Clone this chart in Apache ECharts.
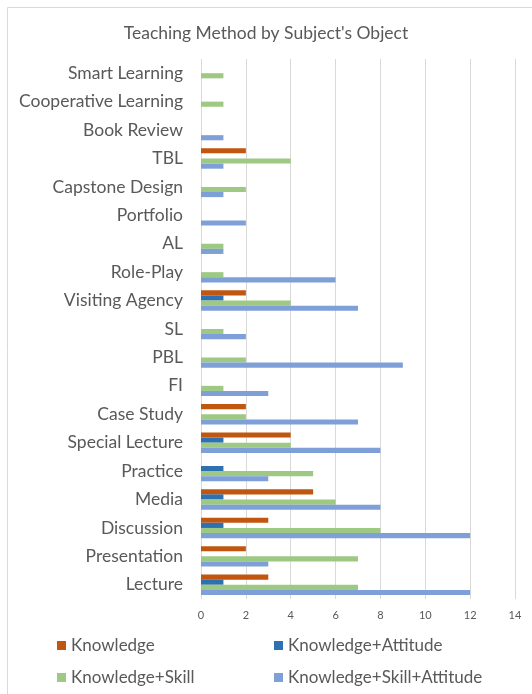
<!DOCTYPE html>
<html>
<head>
<meta charset="utf-8">
<script src="https://cdn.jsdelivr.net/npm/echarts@6/dist/echarts.min.js"></script>
<style>
  html, body { margin: 0; padding: 0; background: #fff; }
  #chart { width: 532px; height: 694px; }
</style>
</head>
<body>
<div id="chart"></div>
<script>
// categories bottom -> top
var methods = ['Lecture', 'Presentation', 'Discussion', 'Media', 'Practice', 'Special Lecture',
  'Case Study', 'FI', 'PBL', 'SL', 'Visiting Agency', 'Role-Play', 'AL', 'Portfolio',
  'Capstone Design', 'TBL', 'Book Review', 'Cooperative Learning', 'Smart Learning'];

var knowledge          = [3, 2, 3, 5, 0, 4, 2, 0, 0, 0, 2, 0, 0, 0, 0, 2, 0, 0, 0];
var knowAttitude       = [1, 0, 1, 1, 1, 1, 0, 0, 0, 0, 1, 0, 0, 0, 0, 0, 0, 0, 0];
var knowSkill          = [7, 7, 8, 6, 5, 4, 2, 1, 2, 1, 4, 1, 1, 0, 2, 4, 0, 1, 1];
var knowSkillAttitude  = [12, 3, 12, 8, 3, 8, 7, 3, 9, 2, 7, 6, 1, 2, 1, 1, 1, 0, 0];

var xTicks = [0, 2, 4, 6, 8, 10, 12, 14];

var fontName = 'Lato';
var textColor = '#595959';

function bar(name, data, color) {
  return {
    name: name,
    type: 'bar',
    data: data.map(function (v) { return v === 0 ? '-' : v; }),
    barGap: '0%',
    barCategoryGap: '28%',
    itemStyle: { color: color },
    silent: true
  };
}

var chart = echarts.init(document.getElementById('chart'));

var option = {
  animation: false,
  textStyle: { fontFamily: fontName },
  title: {
    text: "Teaching Method by Subject's Object",
    left: 'center',
    top: 19,
    textStyle: { fontSize: 17.5, fontWeight: 'normal', color: textColor, fontFamily: fontName }
  },
  graphic: [{
    type: 'rect',
    shape: { x: 7.5, y: 7.5, width: 600, height: 800 },
    style: { fill: 'none', stroke: '#d9d9d9', lineWidth: 1 },
    silent: true,
    z: -1
  }],
  legend: [{
    data: ['Knowledge', 'Knowledge+Skill'],
    orient: 'vertical',
    left: 52,
    top: 632,
    itemGap: 15,
    itemWidth: 9,
    itemHeight: 9,
    icon: 'rect',
    textStyle: { fontSize: 17, color: textColor, fontFamily: fontName }
  }, {
    data: ['Knowledge+Attitude', 'Knowledge+Skill+Attitude'],
    orient: 'vertical',
    left: 269,
    top: 632,
    itemGap: 15,
    itemWidth: 9,
    itemHeight: 9,
    icon: 'rect',
    textStyle: { fontSize: 17, color: textColor, fontFamily: fontName }
  }],
  grid: { left: 201, right: 17, top: 59, bottom: 95, containLabel: false },
  xAxis: {
    type: 'value',
    min: 0,
    max: 14,
    interval: 2,
    axisLine: { show: false },
    axisTick: { show: false },
    axisLabel: {
      color: textColor, fontSize: 11, margin: 11, fontFamily: fontName,
      formatter: function (v) { return xTicks.indexOf(v) >= 0 ? String(v) : ''; }
    },
    splitLine: { lineStyle: { color: '#d9d9d9', width: 1 } }
  },
  yAxis: {
    type: 'category',
    data: methods,
    axisLine: { show: false },
    axisTick: { show: false },
    axisLabel: { color: textColor, fontSize: 17.5, margin: 18, fontFamily: fontName }
  },
  series: [
    bar('Knowledge', knowledge, '#C0560F'),
    bar('Knowledge+Attitude', knowAttitude, '#2E70B0'),
    bar('Knowledge+Skill', knowSkill, '#9DC983'),
    bar('Knowledge+Skill+Attitude', knowSkillAttitude, '#7F9FD9')
  ]
};

chart.setOption(option);
</script>
</body>
</html>
